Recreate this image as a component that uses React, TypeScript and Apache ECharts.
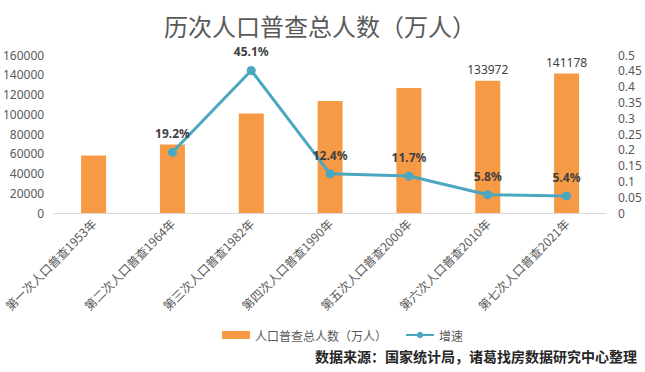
import React, { useEffect, useRef } from "react";
import * as echarts from "echarts";

const categories = [
  "第一次人口普查1953年",
  "第二次人口普查1964年",
  "第三次人口普查1982年",
  "第四次人口普查1990年",
  "第五次人口普查2000年",
  "第六次人口普查2010年",
  "第七次人口普查2021年",
];
const population = [58260, 69458, 100818, 113368, 126583, 133972, 141178];
const populationLabelShown = [false, false, false, false, false, true, true];
const growth: (number | string)[] = ["-", 0.192, 0.451, 0.124, 0.117, 0.058, 0.054];

const TITLE = "历次人口普查总人数（万人）";
const SOURCE = "数据来源：国家统计局，诸葛找房数据研究中心整理";
const BAR_NAME = "人口普查总人数（万人）";
const LINE_NAME = "增速";

const CJK = "'Noto Sans CJK SC', 'Noto Sans', sans-serif";
const NUM = "'Noto Sans', sans-serif";

export default function App() {
  const ref = useRef<HTMLDivElement>(null);
  useEffect(() => {
    if (!ref.current) return;
    const chart = echarts.init(ref.current, null, { renderer: "svg" });
    chart.setOption({
      animation: false,
      backgroundColor: "#ffffff",
      textStyle: { fontFamily: CJK },
      title: {
        text: TITLE,
        left: 315,
        top: 8,
        textAlign: "center",
        textStyle: { fontSize: 24, fontWeight: "normal", color: "#595959", fontFamily: CJK },
      },
      graphic: [
        {
          type: "text",
          right: 8,
          top: 349,
          style: {
            text: SOURCE,
            fontSize: 14,
            fontWeight: "bold",
            fill: "#262626",
            fontFamily: CJK,
          },
        },
      ],
      legend: {
        left: 222,
        top: 329,
        padding: 0,
        itemGap: 18,
        itemWidth: 28,
        itemHeight: 8,
        textStyle: { fontSize: 12, color: "#595959", fontFamily: CJK },
        data: [
          { name: BAR_NAME, icon: "rect" },
          { name: LINE_NAME },
        ],
      },
      grid: { left: 51, right: 39, top: 55, bottom: 159 },
      xAxis: {
        type: "category",
        data: categories,
        axisLine: { lineStyle: { color: "#d9d9d9" } },
        axisTick: { show: false },
        axisLabel: {
          rotate: 45,
          interval: 0,
          margin: 8,
          fontSize: 12,
          color: "#595959",
          fontFamily: CJK,
        },
      },
      yAxis: [
        {
          type: "value",
          min: 0,
          max: 160000,
          interval: 20000,
          splitLine: { show: false },
          axisLine: { show: false },
          axisTick: { show: false },
          axisLabel: {
            fontSize: 12,
            color: "#595959",
            margin: 10,
            fontFamily: NUM,
            formatter: (v: number) => String(v),
          },
        },
        {
          type: "value",
          min: 0,
          max: 0.5,
          interval: 0.05,
          splitLine: { show: false },
          axisLine: { show: false },
          axisTick: { show: false },
          axisLabel: {
            fontSize: 12,
            color: "#595959",
            margin: 12,
            fontFamily: NUM,
            formatter: (v: number) => String(Math.round(v * 100) / 100),
          },
        },
      ],
      series: [
        {
          name: BAR_NAME,
          type: "bar",
          barWidth: 25,
          itemStyle: { color: "#F79A45" },
          data: population.map((v, i) => ({
            value: v,
            label: {
              show: populationLabelShown[i],
              position: "top",
              fontSize: 12,
              color: "#404040",
              fontFamily: NUM,
            },
          })),
        },
        {
          name: LINE_NAME,
          type: "line",
          yAxisIndex: 1,
          symbol: "circle",
          symbolSize: 9,
          lineStyle: { color: "#4AA7BF", width: 3 },
          itemStyle: { color: "#4AA7BF" },
          label: {
            show: true,
            position: "top",
            distance: 8,
            fontSize: 12,
            fontWeight: "bold",
            color: "#404040",
            fontFamily: NUM,
            formatter: (p: any) => (typeof p.value === "number" ? (p.value * 100).toFixed(1) + "%" : ""),
          },
          data: growth,
        },
      ],
    });
    return () => chart.dispose();
  }, []);
  return (
    <div
      ref={ref}
      style={{ position: "absolute", left: 0, top: 0, width: 645, height: 372 }}
    />
  );
}
